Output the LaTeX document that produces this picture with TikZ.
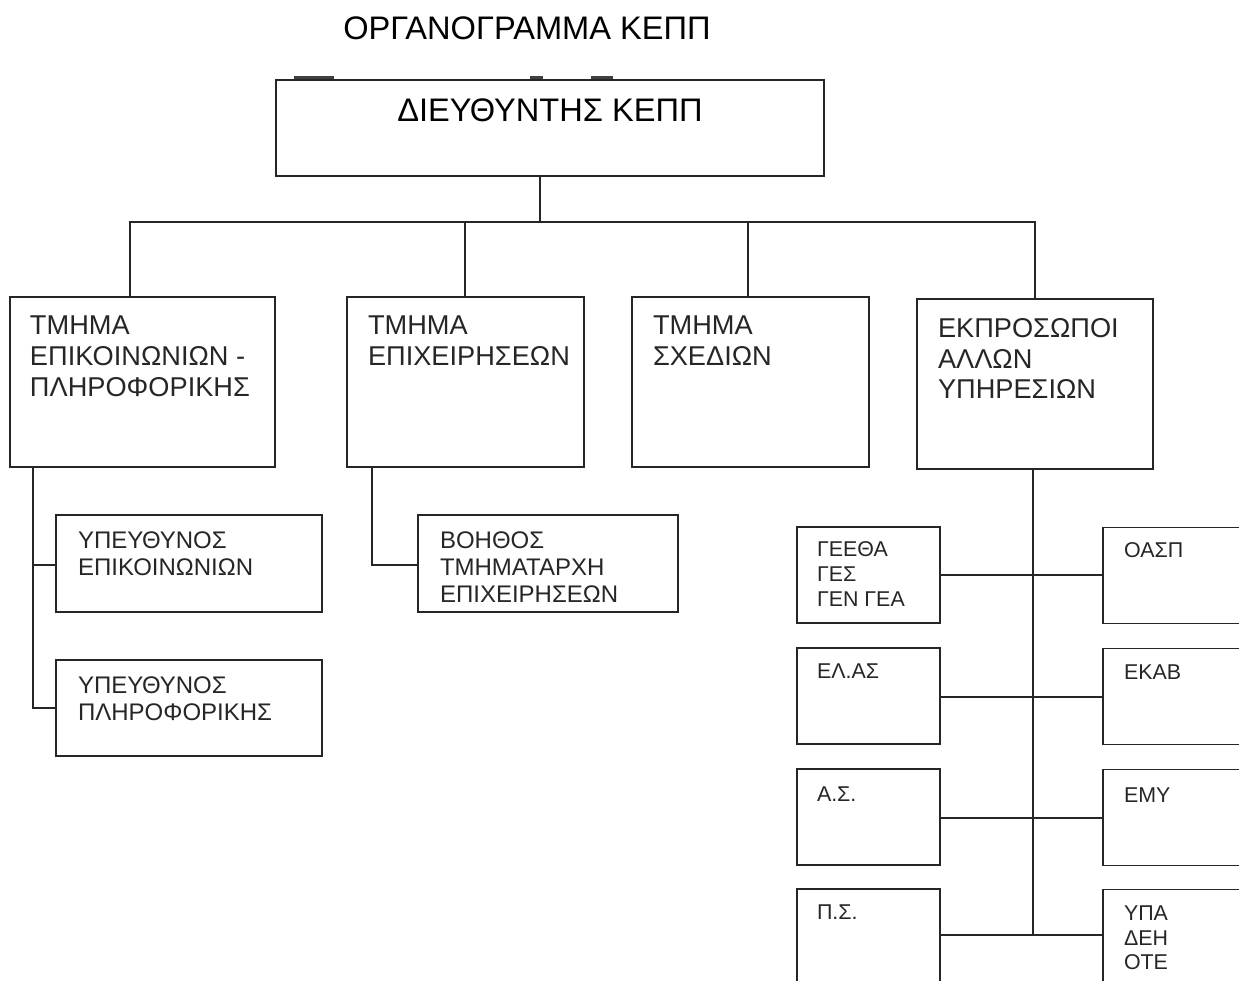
\documentclass[tikz,border=0pt]{standalone}
\usepackage{fontspec}
\setmainfont{Liberation Sans}
\usetikzlibrary{calc}
\begin{document}
\begin{tikzpicture}[x=0.5pt,y=-0.5pt,
  line width=0.7pt, draw=black!85,
  box/.style 2 args={draw=black!85, line width=0.7pt, minimum width=#1*0.5pt, minimum height=#2*0.5pt, inner sep=0pt},
  ttl/.style={inner sep=0pt, font=\fontsize{16.3}{19}\selectfont, text=black},
  t2/.style={anchor=north west, inner sep=0pt, align=left, font=\fontsize{13.6}{15.5}\selectfont, text=black!85},
  t3/.style={anchor=north west, inner sep=0pt, align=left, font=\fontsize{12}{13.5}\selectfont, text=black!85},
  t4/.style={anchor=north west, inner sep=0pt, align=left, font=\fontsize{10.7}{12.4}\selectfont, text=black!85},
  wire/.style={draw=black!85, line width=0.7pt},
  speck/.style={draw=black!75, line width=1.1pt}
]
\useasboundingbox (0,0) rectangle (1239,981);
\clip (0,0) rectangle (1239,981);

% title
\node[ttl] (title) at (527,28) {ΟΡΓΑΝΟΓΡΑΜΜΑ ΚΕΠΠ};

% director
\node[box={548}{96}] (main) at (550,128) {};
\node[ttl] (maint) at (550,110) {ΔΙΕΥΘΥΝΤΗΣ ΚΕΠΠ};
\draw[speck] (294,77.5) -- (334,77.5);
\draw[speck] (530,77.5) -- (543,77.5);
\draw[speck] (591,77.5) -- (613,77.5);

% departments
\node[box={265}{170}] (b1) at (142.5,382) {};
\node[box={237}{170}] (b2) at (465.5,382) {};
\node[box={237}{170}] (b3) at (750.5,382) {};
\node[box={236}{170}] (b4) at (1035,384) {};
\node[t2] (b1t) at ($(b1.north west)+(20,19)$) {ΤΜΗΜΑ\\ΕΠΙΚΟΙΝΩΝΙΩΝ -\\ΠΛΗΡΟΦΟΡΙΚΗΣ};
\node[t2] (b2t) at ($(b2.north west)+(21,19)$) {ΤΜΗΜΑ\\ΕΠΙΧΕΙΡΗΣΕΩΝ};
\node[t2] (b3t) at ($(b3.north west)+(21,19)$) {ΤΜΗΜΑ\\ΣΧΕΔΙΩΝ};
\node[t2] (b4t) at ($(b4.north west)+(21,19)$) {ΕΚΠΡΟΣΩΠΟΙ\\ΑΛΛΩΝ\\ΥΠΗΡΕΣΙΩΝ};

% bus
\coordinate (j0) at (540,222);
\coordinate (jL) at (130,222);
\coordinate (jR) at (1035,222);
\coordinate (j2) at (465,222);
\coordinate (j3) at (748,222);
\draw[wire] (main.south -| j0) -- (j0);
\draw[wire] (b1.north -| jL) -- (jL) -- (jR) -- (b4.north);
\draw[wire] (j2) -- (b2.north -| j2);
\draw[wire] (j3) -- (b3.north -| j3);

% sub-units left
\node[box={266}{97}] (u1) at (189,563.5) {};
\node[box={266}{96}] (u2) at (189,708) {};
\node[t3] (u1t) at ($(u1.north west)+(22,17)$) {ΥΠΕΥΘΥΝΟΣ\\ΕΠΙΚΟΙΝΩΝΙΩΝ};
\node[t3] (u2t) at ($(u2.north west)+(22,17)$) {ΥΠΕΥΘΥΝΟΣ\\ΠΛΗΡΟΦΟΡΙΚΗΣ};
\coordinate (spine) at (33,708);
\coordinate (sp1) at (33,565);
\draw[wire] (b1.south -| spine) -- (spine) -- (u2.west);
\draw[wire] (sp1) -- (u1.west |- sp1);

% sub-unit middle
\node[box={260}{97}] (v) at (548,563.5) {};
\node[t3] (vt) at ($(v.north west)+(22,17)$) {ΒΟΗΘΟΣ\\ΤΜΗΜΑΤΑΡΧΗ\\ΕΠΙΧΕΙΡΗΣΕΩΝ};
\coordinate (vs) at (372,565);
\draw[wire] (b2.south -| vs) -- (vs) -- (v.west |- vs);

% representatives
\node[box={143}{96}] (l1) at (868.5,575) {};
\node[box={143}{96}] (l2) at (868.5,696) {};
\node[box={143}{96}] (l3) at (868.5,817) {};
\node[box={143}{111}] (l4) at (868.5,944.5) {};
\node[box={200}{96}] (r1) at (1203,575.5) {};
\node[box={200}{96}] (r2) at (1203,696.5) {};
\node[box={200}{96}] (r3) at (1203,817.5) {};
\node[box={200}{111}] (r4) at (1203,945) {};

\node[t4] (l1t) at ($(l1.north west)+(20,15)$) {ΓΕΕΘΑ\\ΓΕΣ\\ΓΕΝ ΓΕΑ};
\node[t4] (l2t) at ($(l2.north west)+(20,16)$) {ΕΛ.ΑΣ};
\node[t4] (l3t) at ($(l3.north west)+(20,18)$) {Α.Σ.};
\node[t4] (l4t) at ($(l4.north west)+(20,16)$) {Π.Σ.};
\node[t4] (r1t) at ($(r1.north west)+(21,15)$) {ΟΑΣΠ};
\node[t4] (r2t) at ($(r2.north west)+(21,16)$) {ΕΚΑΒ};
\node[t4] (r3t) at ($(r3.north west)+(21,18)$) {ΕΜΥ};
\node[t4] (r4t) at ($(r4.north west)+(21,16)$) {ΥΠΑ\\ΔΕΗ\\ΟΤΕ};

\coordinate (rb) at (1033,935);
\coordinate (c1) at (1033,575);
\coordinate (c2) at (1033,697);
\coordinate (c3) at (1033,818);
\draw[wire] (b4.south -| rb) -- (rb);
\draw[wire] (l1.east |- c1) -- (r1.west |- c1);
\draw[wire] (l2.east |- c2) -- (r2.west |- c2);
\draw[wire] (l3.east |- c3) -- (r3.west |- c3);
\draw[wire] (l4.east |- rb) -- (r4.west |- rb);
\end{tikzpicture}
\end{document}
